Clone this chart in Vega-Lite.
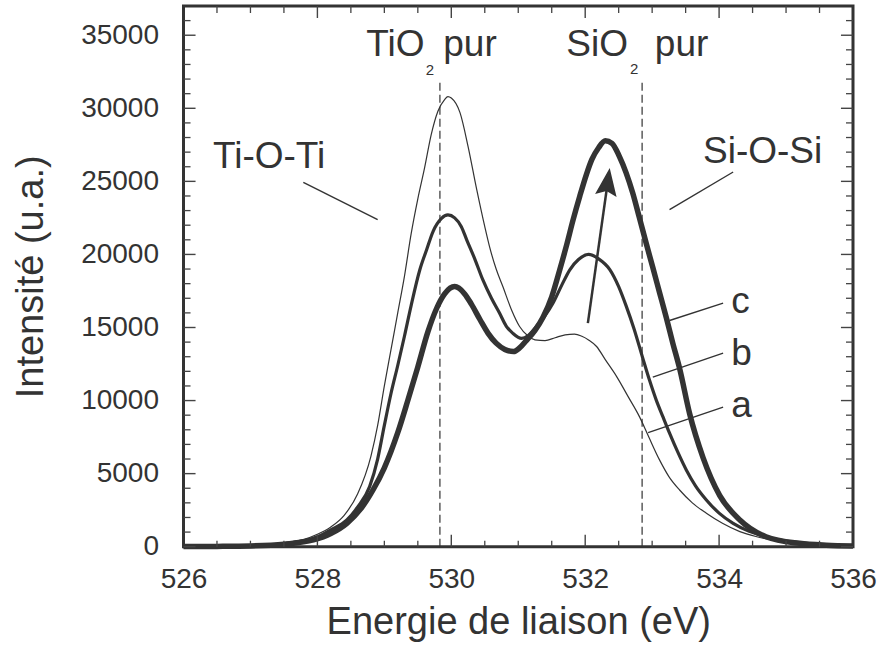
{
  "$schema": "https://vega.github.io/schema/vega-lite/v6.json",
  "width": 669.5,
  "height": 540.7,
  "autosize": {"type": "none"},
  "padding": {"left": 183.5, "top": 6, "right": 25, "bottom": 101.3},
  "background": "white",
  "config": {
    "view": {"stroke": "#333333", "strokeWidth": 3},
    "font": "Liberation Sans",
    "axis": {"domain": false, "grid": false, "labelFont": "Liberation Sans", "titleFont": "Liberation Sans", "labelColor": "#333333", "titleColor": "#333333", "titleFontWeight": "normal"}
  },
  "datasets": {
    "curves": [
      {"s":"a","E":526.0,"I":20},{"s":"a","E":526.5,"I":40},{"s":"a","E":527.0,"I":90},{"s":"a","E":527.5,"I":260},{"s":"a","E":527.8,"I":500},{"s":"a","E":528.0,"I":850},{"s":"a","E":528.2,"I":1350},{"s":"a","E":528.4,"I":2150},{"s":"a","E":528.6,"I":3600},{"s":"a","E":528.8,"I":6200},{"s":"a","E":528.9,"I":8300},{"s":"a","E":529.0,"I":11000},{"s":"a","E":529.1,"I":13500},{"s":"a","E":529.2,"I":16000},{"s":"a","E":529.3,"I":18500},{"s":"a","E":529.4,"I":21400},{"s":"a","E":529.5,"I":23800},{"s":"a","E":529.6,"I":25900},{"s":"a","E":529.7,"I":28200},{"s":"a","E":529.8,"I":29800},{"s":"a","E":529.9,"I":30600},{"s":"a","E":529.95,"I":30800},{"s":"a","E":530.0,"I":30700},{"s":"a","E":530.13,"I":29700},{"s":"a","E":530.25,"I":27400},{"s":"a","E":530.38,"I":24430},{"s":"a","E":530.5,"I":21900},{"s":"a","E":530.57,"I":20550},{"s":"a","E":530.67,"I":19000},{"s":"a","E":530.77,"I":17800},{"s":"a","E":530.9,"I":16200},{"s":"a","E":531.02,"I":15070},{"s":"a","E":531.15,"I":14400},{"s":"a","E":531.25,"I":14150},{"s":"a","E":531.4,"I":14100},{"s":"a","E":531.55,"I":14300},{"s":"a","E":531.7,"I":14500},{"s":"a","E":531.84,"I":14550},{"s":"a","E":531.95,"I":14400},{"s":"a","E":532.05,"I":14150},{"s":"a","E":532.17,"I":13700},{"s":"a","E":532.3,"I":12800},{"s":"a","E":532.47,"I":11640},{"s":"a","E":532.65,"I":10200},{"s":"a","E":532.81,"I":8900},{"s":"a","E":532.95,"I":7500},{"s":"a","E":533.11,"I":5940},{"s":"a","E":533.25,"I":4800},{"s":"a","E":533.41,"I":3880},{"s":"a","E":533.6,"I":3000},{"s":"a","E":533.81,"I":2290},{"s":"a","E":534.05,"I":1600},{"s":"a","E":534.31,"I":1030},{"s":"a","E":534.55,"I":700},{"s":"a","E":534.8,"I":460},{"s":"a","E":535.1,"I":270},{"s":"a","E":535.5,"I":150},{"s":"a","E":536.0,"I":60},
      {"s":"b","E":526.0,"I":10},{"s":"b","E":526.5,"I":20},{"s":"b","E":527.0,"I":60},{"s":"b","E":527.5,"I":200},{"s":"b","E":528.0,"I":680},{"s":"b","E":528.2,"I":1150},{"s":"b","E":528.44,"I":1830},{"s":"b","E":528.6,"I":2700},{"s":"b","E":528.78,"I":4110},{"s":"b","E":528.9,"I":6000},{"s":"b","E":529.0,"I":8300},{"s":"b","E":529.1,"I":10500},{"s":"b","E":529.2,"I":12400},{"s":"b","E":529.3,"I":14400},{"s":"b","E":529.4,"I":16500},{"s":"b","E":529.53,"I":18950},{"s":"b","E":529.63,"I":20300},{"s":"b","E":529.73,"I":21600},{"s":"b","E":529.85,"I":22450},{"s":"b","E":529.95,"I":22700},{"s":"b","E":530.05,"I":22500},{"s":"b","E":530.15,"I":21900},{"s":"b","E":530.23,"I":21000},{"s":"b","E":530.35,"I":19700},{"s":"b","E":530.47,"I":18270},{"s":"b","E":530.6,"I":17000},{"s":"b","E":530.72,"I":15990},{"s":"b","E":530.82,"I":15100},{"s":"b","E":530.92,"I":14600},{"s":"b","E":531.05,"I":14250},{"s":"b","E":531.15,"I":14450},{"s":"b","E":531.27,"I":15070},{"s":"b","E":531.4,"I":15800},{"s":"b","E":531.52,"I":16670},{"s":"b","E":531.65,"I":17900},{"s":"b","E":531.77,"I":18950},{"s":"b","E":531.9,"I":19650},{"s":"b","E":532.05,"I":20000},{"s":"b","E":532.2,"I":19700},{"s":"b","E":532.37,"I":18950},{"s":"b","E":532.5,"I":17800},{"s":"b","E":532.61,"I":16500},{"s":"b","E":532.73,"I":14900},{"s":"b","E":532.86,"I":12900},{"s":"b","E":532.96,"I":11400},{"s":"b","E":533.06,"I":10050},{"s":"b","E":533.16,"I":8900},{"s":"b","E":533.26,"I":7770},{"s":"b","E":533.38,"I":6500},{"s":"b","E":533.51,"I":5250},{"s":"b","E":533.65,"I":4150},{"s":"b","E":533.81,"I":3200},{"s":"b","E":534.0,"I":2300},{"s":"b","E":534.21,"I":1600},{"s":"b","E":534.45,"I":1050},{"s":"b","E":534.7,"I":685},{"s":"b","E":535.0,"I":380},{"s":"b","E":535.5,"I":150},{"s":"b","E":536.0,"I":50},
      {"s":"c","E":526.0,"I":10},{"s":"c","E":526.5,"I":20},{"s":"c","E":527.0,"I":50},{"s":"c","E":527.5,"I":170},{"s":"c","E":527.94,"I":460},{"s":"c","E":528.2,"I":900},{"s":"c","E":528.44,"I":1600},{"s":"c","E":528.65,"I":2600},{"s":"c","E":528.83,"I":3880},{"s":"c","E":529.0,"I":5400},{"s":"c","E":529.2,"I":7800},{"s":"c","E":529.35,"I":10000},{"s":"c","E":529.5,"I":12300},{"s":"c","E":529.65,"I":14700},{"s":"c","E":529.78,"I":16300},{"s":"c","E":529.9,"I":17300},{"s":"c","E":530.05,"I":17800},{"s":"c","E":530.2,"I":17300},{"s":"c","E":530.3,"I":16600},{"s":"c","E":530.43,"I":15530},{"s":"c","E":530.55,"I":14600},{"s":"c","E":530.67,"I":13930},{"s":"c","E":530.8,"I":13500},{"s":"c","E":530.93,"I":13350},{"s":"c","E":531.02,"I":13600},{"s":"c","E":531.12,"I":14100},{"s":"c","E":531.25,"I":14800},{"s":"c","E":531.37,"I":15700},{"s":"c","E":531.5,"I":17100},{"s":"c","E":531.62,"I":18950},{"s":"c","E":531.72,"I":20600},{"s":"c","E":531.82,"I":22380},{"s":"c","E":531.92,"I":24000},{"s":"c","E":532.02,"I":25500},{"s":"c","E":532.1,"I":26500},{"s":"c","E":532.2,"I":27300},{"s":"c","E":532.3,"I":27780},{"s":"c","E":532.4,"I":27600},{"s":"c","E":532.51,"I":26710},{"s":"c","E":532.61,"I":25600},{"s":"c","E":532.71,"I":24200},{"s":"c","E":532.81,"I":22500},{"s":"c","E":532.91,"I":20780},{"s":"c","E":533.01,"I":19100},{"s":"c","E":533.11,"I":17400},{"s":"c","E":533.21,"I":15700},{"s":"c","E":533.31,"I":13900},{"s":"c","E":533.41,"I":12200},{"s":"c","E":533.56,"I":9100},{"s":"c","E":533.76,"I":6100},{"s":"c","E":534.01,"I":3500},{"s":"c","E":534.31,"I":1830},{"s":"c","E":534.7,"I":685},{"s":"c","E":535.2,"I":230},{"s":"c","E":535.6,"I":100},{"s":"c","E":536.0,"I":50}
    ],
    "refs": [{"E": 529.83, "I0": 0, "I1": 31800}, {"E": 532.85, "I0": 0, "I1": 31800}],
    "leaders": [
      {"E1": 527.79, "I1": 24930, "E2": 528.9, "I2": 22380},
      {"E1": 534.21, "I1": 25640, "E2": 533.26, "I2": 23060},
      {"E1": 533.26, "I1": 15480, "E2": 534.06, "I2": 16670},
      {"E1": 533.01, "I1": 11600, "E2": 534.06, "I2": 13250},
      {"E1": 532.94, "I1": 7810, "E2": 534.06, "I2": 9550}
    ],
    "textLeft": [
      {"t": "Ti-O-Ti", "E": 526.44, "I": 25920},
      {"t": "Si-O-Si", "E": 533.76, "I": 26260},
      {"t": "pur", "E": 529.88, "I": 33600},
      {"t": "pur", "E": 533.04, "I": 33600},
      {"t": "c", "E": 534.18, "I": 15990},
      {"t": "b", "E": 534.18, "I": 12450},
      {"t": "a", "E": 534.18, "I": 8860}
    ],
    "textRight": [
      {"t": "TiO", "E": 529.6, "I": 33600},
      {"t": "SiO", "E": 532.64, "I": 33600}
    ],
    "subs": [
      {"t": "2", "E": 529.68, "I": 32310},
      {"t": "2", "E": 532.73, "I": 32380}
    ],
    "arrow": [{"E": 532.04, "I": 15300}, {"E": 532.334, "I": 24870}],
    "head": [{"E": 532.334, "I": 24870}],
    "yMajor": [{"v":0},{"v":5000},{"v":10000},{"v":15000},{"v":20000},{"v":25000},{"v":30000},{"v":35000}],
    "yMinor": [{"v":1000},{"v":2000},{"v":3000},{"v":4000},{"v":6000},{"v":7000},{"v":8000},{"v":9000},{"v":11000},{"v":12000},{"v":13000},{"v":14000},{"v":16000},{"v":17000},{"v":18000},{"v":19000},{"v":21000},{"v":22000},{"v":23000},{"v":24000},{"v":26000},{"v":27000},{"v":28000},{"v":29000},{"v":31000},{"v":32000},{"v":33000},{"v":34000},{"v":36000}],
    "xMajor": [{"v":528},{"v":530},{"v":532},{"v":534}],
    "xMinor": [{"v":526.5},{"v":527},{"v":527.5},{"v":528.5},{"v":529},{"v":529.5},{"v":530.5},{"v":531},{"v":531.5},{"v":532.5},{"v":533},{"v":533.5},{"v":534.5},{"v":535},{"v":535.5}]
  },
  "layer": [
    {
      "data": {"name": "curves"},
      "mark": {"type": "line", "interpolate": "monotone", "color": "#333333"},
      "encoding": {
        "x": {"field": "E", "type": "quantitative", "scale": {"domain": [526, 536], "nice": false, "zero": false},
              "axis": {"orient": "bottom", "title": "Energie de liaison (eV)", "values": [526, 528, 530, 532, 534, 536], "format": "d", "ticks": false, "labelPadding": 19, "labelFontSize": 28, "titleFontSize": 38, "titlePadding": 10, "labelFlush": false}},
        "y": {"field": "I", "type": "quantitative", "scale": {"domain": [0, 37000], "nice": false},
              "axis": {"orient": "left", "title": "Intensité (u.a.)", "values": [0, 5000, 10000, 15000, 20000, 25000, 30000, 35000], "format": "d", "ticks": false, "labelPadding": 25, "labelFontSize": 28, "titleFontSize": 38, "titlePadding": 30, "labelFlush": false}},
        "detail": {"field": "s", "type": "nominal"},
        "strokeWidth": {"field": "s", "type": "nominal", "scale": {"type": "ordinal", "domain": ["a", "b", "c"], "range": [1.2, 3.2, 5.5]}, "legend": null}
      }
    },
    {
      "data": {"name": "yMajor"},
      "mark": {"type": "rule", "color": "#444444", "strokeWidth": 1.4},
      "encoding": {"y": {"field": "v", "type": "quantitative", "scale": {"domain": [0, 37000], "nice": false}}, "x": {"datum": 526, "type": "quantitative", "scale": {"domain": [526, 536], "nice": false, "zero": false}}, "x2": {"datum": 526.18}}
    },
    {
      "data": {"name": "yMinor"},
      "mark": {"type": "rule", "color": "#444444", "strokeWidth": 1.3},
      "encoding": {"y": {"field": "v", "type": "quantitative", "scale": {"domain": [0, 37000], "nice": false}}, "x": {"datum": 526, "type": "quantitative", "scale": {"domain": [526, 536], "nice": false, "zero": false}}, "x2": {"datum": 526.105}}
    },
    {
      "data": {"name": "yMajor"},
      "mark": {"type": "rule", "color": "#444444", "strokeWidth": 1.4},
      "encoding": {"y": {"field": "v", "type": "quantitative", "scale": {"domain": [0, 37000], "nice": false}}, "x": {"datum": 535.82, "type": "quantitative", "scale": {"domain": [526, 536], "nice": false, "zero": false}}, "x2": {"datum": 536}}
    },
    {
      "data": {"name": "yMinor"},
      "mark": {"type": "rule", "color": "#444444", "strokeWidth": 1.3},
      "encoding": {"y": {"field": "v", "type": "quantitative", "scale": {"domain": [0, 37000], "nice": false}}, "x": {"datum": 535.895, "type": "quantitative", "scale": {"domain": [526, 536], "nice": false, "zero": false}}, "x2": {"datum": 536}}
    },
    {
      "data": {"name": "xMajor"},
      "mark": {"type": "rule", "color": "#444444", "strokeWidth": 1.4},
      "encoding": {"x": {"field": "v", "type": "quantitative", "scale": {"domain": [526, 536], "nice": false, "zero": false}}, "y": {"datum": 0, "type": "quantitative", "scale": {"domain": [0, 37000], "nice": false}}, "y2": {"datum": 820}}
    },
    {
      "data": {"name": "xMinor"},
      "mark": {"type": "rule", "color": "#444444", "strokeWidth": 1.3},
      "encoding": {"x": {"field": "v", "type": "quantitative", "scale": {"domain": [526, 536], "nice": false, "zero": false}}, "y": {"datum": 0, "type": "quantitative", "scale": {"domain": [0, 37000], "nice": false}}, "y2": {"datum": 410}}
    },
    {
      "data": {"name": "xMajor"},
      "mark": {"type": "rule", "color": "#444444", "strokeWidth": 1.4},
      "encoding": {"x": {"field": "v", "type": "quantitative", "scale": {"domain": [526, 536], "nice": false, "zero": false}}, "y": {"datum": 36180, "type": "quantitative", "scale": {"domain": [0, 37000], "nice": false}}, "y2": {"datum": 37000}}
    },
    {
      "data": {"name": "xMinor"},
      "mark": {"type": "rule", "color": "#444444", "strokeWidth": 1.3},
      "encoding": {"x": {"field": "v", "type": "quantitative", "scale": {"domain": [526, 536], "nice": false, "zero": false}}, "y": {"datum": 36520, "type": "quantitative", "scale": {"domain": [0, 37000], "nice": false}}, "y2": {"datum": 37000}}
    },
    {
      "data": {"name": "refs"},
      "mark": {"type": "rule", "color": "#333333", "strokeWidth": 1.2, "strokeDash": [8, 4]},
      "encoding": {
        "x": {"field": "E", "type": "quantitative", "scale": {"domain": [526, 536], "nice": false, "zero": false}},
        "y": {"field": "I0", "type": "quantitative", "scale": {"domain": [0, 37000], "nice": false}},
        "y2": {"field": "I1"}
      }
    },
    {
      "data": {"name": "leaders"},
      "mark": {"type": "rule", "color": "#333333", "strokeWidth": 1.4},
      "encoding": {
        "x": {"field": "E1", "type": "quantitative", "scale": {"domain": [526, 536], "nice": false, "zero": false}},
        "y": {"field": "I1", "type": "quantitative", "scale": {"domain": [0, 37000], "nice": false}},
        "x2": {"field": "E2"},
        "y2": {"field": "I2"}
      }
    },
    {
      "data": {"name": "textLeft"},
      "mark": {"type": "text", "align": "left", "baseline": "alphabetic", "font": "Liberation Sans", "fontSize": 37, "color": "#333333"},
      "encoding": {
        "x": {"field": "E", "type": "quantitative", "scale": {"domain": [526, 536], "nice": false, "zero": false}},
        "y": {"field": "I", "type": "quantitative", "scale": {"domain": [0, 37000], "nice": false}},
        "text": {"field": "t"}
      }
    },
    {
      "data": {"name": "textRight"},
      "mark": {"type": "text", "align": "right", "baseline": "alphabetic", "font": "Liberation Sans", "fontSize": 37, "color": "#333333"},
      "encoding": {
        "x": {"field": "E", "type": "quantitative", "scale": {"domain": [526, 536], "nice": false, "zero": false}},
        "y": {"field": "I", "type": "quantitative", "scale": {"domain": [0, 37000], "nice": false}},
        "text": {"field": "t"}
      }
    },
    {
      "data": {"name": "subs"},
      "mark": {"type": "text", "align": "center", "baseline": "alphabetic", "font": "Liberation Sans", "fontSize": 15, "color": "#333333"},
      "encoding": {
        "x": {"field": "E", "type": "quantitative", "scale": {"domain": [526, 536], "nice": false, "zero": false}},
        "y": {"field": "I", "type": "quantitative", "scale": {"domain": [0, 37000], "nice": false}},
        "text": {"field": "t"}
      }
    },
    {
      "data": {"name": "arrow"},
      "mark": {"type": "line", "color": "#333333", "strokeWidth": 2.5},
      "encoding": {
        "x": {"field": "E", "type": "quantitative", "scale": {"domain": [526, 536], "nice": false, "zero": false}},
        "y": {"field": "I", "type": "quantitative", "scale": {"domain": [0, 37000], "nice": false}}
      }
    },
    {
      "data": {"name": "head"},
      "mark": {"type": "point", "shape": "M0,-1L-0.7,0.8L0,0.5L0.7,0.8Z", "filled": true, "size": 960, "angle": 8, "color": "#333333", "opacity": 1, "strokeWidth": 0},
      "encoding": {
        "x": {"field": "E", "type": "quantitative", "scale": {"domain": [526, 536], "nice": false, "zero": false}},
        "y": {"field": "I", "type": "quantitative", "scale": {"domain": [0, 37000], "nice": false}}
      }
    }
  ]
}
